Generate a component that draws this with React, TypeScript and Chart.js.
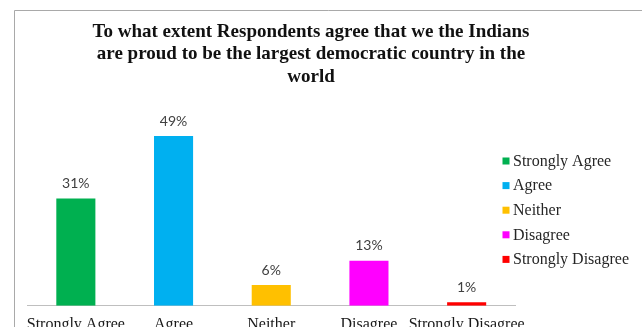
import React, { useEffect, useRef } from "react";
import { Chart, registerables } from "chart.js";

Chart.register(...registerables);

const titleLines = [
  "To what extent Respondents agree that we the Indians",
  "are proud to be the largest democratic country in the",
  "world",
];
const categories = ["Strongly Agree", "Agree", "Neither", "Disagree", "Strongly Disagree"];
const values = [31, 49, 6, 13, 1];
const valueLabels = ["31%", "49%", "6%", "13%", "1%"];
const colors = ["#00b050", "#00b0f0", "#ffc000", "#ff00ff", "#ff0000"];

const W = 642;
const H = 327;
const CANVAS_H = 345;

const decorPlugin = {
  id: "decor",
  beforeDraw(chart: any) {
    const ctx = chart.ctx;
    ctx.save();
    ctx.fillStyle = "#ffffff";
    ctx.fillRect(0, 0, chart.width, chart.height);
    // frame
    ctx.strokeStyle = "#a9a9a9";
    ctx.lineWidth = 1;
    ctx.beginPath();
    ctx.moveTo(14.5, chart.height);
    ctx.lineTo(14.5, 10.5);
    ctx.lineTo(chart.width, 10.5);
    ctx.stroke();
    ctx.restore();
  },
  afterDraw(chart: any) {
    const ctx = chart.ctx;
    ctx.save();
    // title
    ctx.fillStyle = "#111111";
    ctx.font = "bold 19px 'Liberation Serif'";
    ctx.textAlign = "center";
    ctx.textBaseline = "middle";
    titleLines.forEach((t, i) => ctx.fillText(t, 311, 32 + i * 22.5));
    // value labels
    const meta = chart.getDatasetMeta(0);
    ctx.font = "14px Lato";
    ctx.fillStyle = "#404040";
    meta.data.forEach((bar: any, i: number) => {
      ctx.fillText(valueLabels[i], bar.x, bar.y - 15);
    });
    // legend
    ctx.textAlign = "left";
    ctx.font = "16px 'Liberation Serif'";
    categories.forEach((c, i) => {
      const y = 161 + i * 24.6;
      ctx.fillStyle = colors[i];
      ctx.fillRect(502.5, y - 3.5, 7, 7);
      ctx.fillStyle = "#262626";
      ctx.fillText(c, 513, y + 0.5);
    });
    ctx.restore();
  },
};

export default function App() {
  const ref = useRef<HTMLCanvasElement>(null);
  useEffect(() => {
    if (!ref.current) return;
    const chart = new Chart(ref.current, {
      type: "bar",
      data: {
        labels: categories,
        datasets: [
          {
            data: values,
            backgroundColor: colors,
            barPercentage: 0.4,
            categoryPercentage: 1,
          },
        ],
      },
      options: {
        responsive: false,
        animation: false,
        events: [],
        layout: { padding: { left: 27, right: 126.5, top: 98, bottom: 2 } },
        plugins: {
          legend: { display: false },
          title: { display: false },
          tooltip: { enabled: false },
        },
        scales: {
          x: {
            grid: { display: false, drawTicks: false },
            border: { display: true, color: "#bfbfbf", width: 1 },
            ticks: {
              color: "#1a1a1a",
              font: { family: "'Liberation Serif'", size: 16 },
              padding: 9,
              maxRotation: 0,
              autoSkip: false,
            },
          },
          y: {
            display: false,
            min: 0,
            max: 60,
          },
        },
      },
      plugins: [decorPlugin],
    });
    return () => chart.destroy();
  }, []);
  return (
    <div
      style={{
        position: "absolute",
        left: 0,
        top: 0,
        width: W,
        height: H,
        overflow: "hidden",
        background: "#fff",
      }}
    >
      <canvas ref={ref} width={W} height={CANVAS_H} style={{ display: "block" }} />
    </div>
  );
}
